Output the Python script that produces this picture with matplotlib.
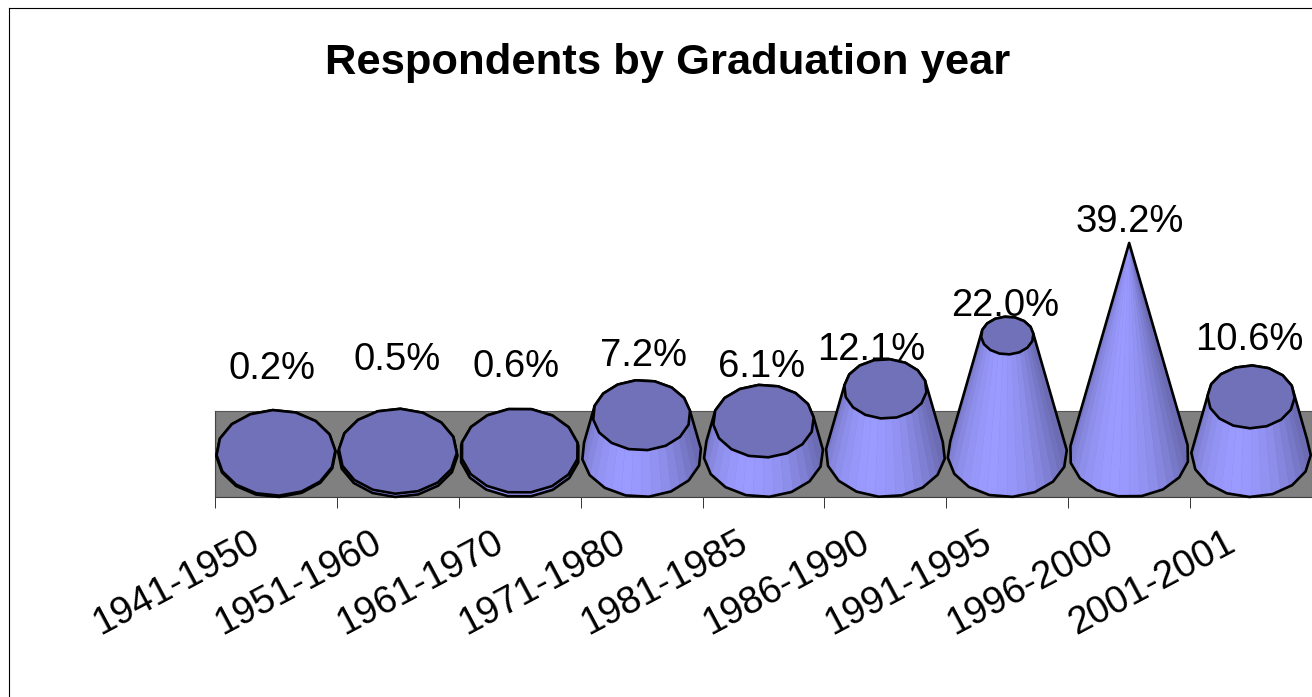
import matplotlib
matplotlib.use("Agg")
import matplotlib.pyplot as plt
from matplotlib.lines import Line2D
from matplotlib.patches import Polygon
from matplotlib.transforms import ScaledTranslation
import numpy as np

CATEGORIES = ["1941-1950", "1951-1960", "1961-1970", "1971-1980", "1981-1985",
              "1986-1990", "1991-1995", "1996-2000", "2001-2001"]
VALUES = [0.2, 0.5, 0.6, 7.2, 6.1, 12.1, 22.0, 39.2, 10.6]
TITLE = "Respondents by Graduation year"

# label offset from the top of each cone, in pixels (the labels are not regular in the original)
LABEL_DX = [-4, -1, -4, 2, -2, -14, -2, 1, -2]
LABEL_DY = [84, 91, 84, 59, 54, 39, 30, 21, 57]
RIM_ROT = [3, 20, 11, 7, 28, 16, 5, 12, 21]

WIDTH, HEIGHT = 1312, 697
Y_MAX = 47
DEPTH = 8
RX = 0.49
FULL = max(VALUES)

BRIGHT = np.array([0x9a, 0x9a, 0xff]) / 255
DARK = np.array([0x6c, 0x6c, 0xb4]) / 255
TOP_COLOR = "#7171ba"
LW = 1.9


def hull(points):
    pts = sorted(set((round(float(p[0]), 6), round(float(p[1]), 6)) for p in points))

    def half(seq):
        out = []
        for p in seq:
            while len(out) > 1 and ((out[-1][0] - out[-2][0]) * (p[1] - out[-2][1])
                                    - (out[-1][1] - out[-2][1]) * (p[0] - out[-2][0])) <= 0:
                out.pop()
            out.append(p)
        return out[:-1]

    return half(pts) + half(pts[::-1])


def rim(cx, cy, scale, rot, n):
    t = np.radians(rot) + np.linspace(0, 2 * np.pi, n, endpoint=False)
    return np.column_stack([cx + RX * scale * np.cos(t), cy + DEPTH * scale * np.sin(t)])


def draw_cone(ax, i, value):
    cx = i + 0.5
    scale = 1 - value / FULL
    rot = RIM_ROT[i]
    base = rim(cx, 0, 1, rot, 16)
    top = rim(cx, value, scale, rot, 16)
    outline = Polygon(hull(np.vstack([base, top])), closed=True, fc=tuple(DARK), ec="none",
                      zorder=3 + i, clip_on=False)
    ax.add_patch(outline)

    # side facets, brightest a bit left of the front
    n = 18
    angles = np.linspace(-np.pi, 0, n + 1)
    for a0, a1 in zip(angles[:-1], angles[1:]):
        mid = (a0 + a1) / 2
        shade = max(0, np.cos(mid + 1.85)) ** 1.2
        color = tuple(DARK + (BRIGHT - DARK) * shade)
        quad = [(cx + RX * np.cos(a0), DEPTH * np.sin(a0)),
                (cx + RX * np.cos(a1), DEPTH * np.sin(a1)),
                (cx + RX * scale * np.cos(a1), value + DEPTH * scale * np.sin(a1)),
                (cx + RX * scale * np.cos(a0), value + DEPTH * scale * np.sin(a0))]
        facet = Polygon(quad, closed=True, fc=color, ec=color, lw=0.3, zorder=3 + i, clip_on=True)
        ax.add_patch(facet)
        facet.set_clip_path(outline)

    ax.add_patch(Polygon(hull(np.vstack([base, top])), closed=True, fc="none", ec="black", lw=LW,
                         joinstyle="round", zorder=3 + i, clip_on=False))
    if scale > 0.02:
        ax.add_patch(Polygon(top, closed=True, fc=TOP_COLOR, ec="black", lw=LW,
                             joinstyle="round", zorder=3 + i, clip_on=False))


def plot():
    plt.rcParams["font.family"] = ["Liberation Sans", "DejaVu Sans"]
    fig = plt.figure(figsize=(WIDTH / 100, HEIGHT / 100), dpi=100, facecolor="white")
    ax = fig.add_axes([215 / WIDTH, 200 / HEIGHT, 1097 / WIDTH, 296 / HEIGHT])
    ax.patch.set_visible(False)
    ax.set_xlim(0, len(CATEGORIES))
    ax.set_ylim(-DEPTH, Y_MAX)

    for side in ["top", "right", "left"]:
        ax.spines[side].set_visible(False)
    ax.spines["bottom"].set_color("#404040")
    ax.spines["bottom"].set_linewidth(0.8)

    ax.axhspan(-DEPTH, DEPTH, fc="#808080", ec="#555555", lw=0.8, zorder=1)
    ax.plot([0, 0], [-DEPTH, DEPTH], color="#444444", lw=0.8, zorder=2, clip_on=False)

    ax.set_yticks([])
    ax.set_xticks(np.arange(len(CATEGORIES)))
    ax.set_xticklabels([])
    ax.tick_params(axis="x", which="major", length=8, width=0.7, color="#333333")
    ax.set_xticks(np.arange(len(CATEGORIES)) + 0.5, minor=True)
    ax.set_xticklabels(CATEGORIES, minor=True, rotation=28, ha="right", va="top",
                       rotation_mode="anchor", fontsize=27.5)
    ax.tick_params(axis="x", which="minor", length=0, pad=20)
    shift = ScaledTranslation(-27 / 100, 0, fig.dpi_scale_trans)
    for label in ax.get_xticklabels(minor=True):
        label.set_transform(label.get_transform() + shift)

    for i, value in enumerate(VALUES):
        draw_cone(ax, i, value)
        ax.annotate("%.1f%%" % value, xy=(i + 0.5, value), xytext=(LABEL_DX[i], LABEL_DY[i]),
                    textcoords="offset pixels", ha="center", va="center", fontsize=27.5,
                    color="black", zorder=30, annotation_clip=False)

    fig.text(668 / WIDTH, 1 - 63 / HEIGHT, TITLE, ha="center", va="center", fontsize=31.3,
             fontweight="bold", color="black")

    # chart area border, only left and top are inside the picture
    fig.add_artist(Line2D([8.8 / WIDTH, 8.8 / WIDTH], [0, 1 - 8 / HEIGHT], color="black", lw=0.8))
    fig.add_artist(Line2D([8.8 / WIDTH, 1], [1 - 8 / HEIGHT, 1 - 8 / HEIGHT], color="black", lw=0.8))

    fig.savefig("out.png", dpi=100, facecolor="white")


if __name__ == '__main__':
    plot()
